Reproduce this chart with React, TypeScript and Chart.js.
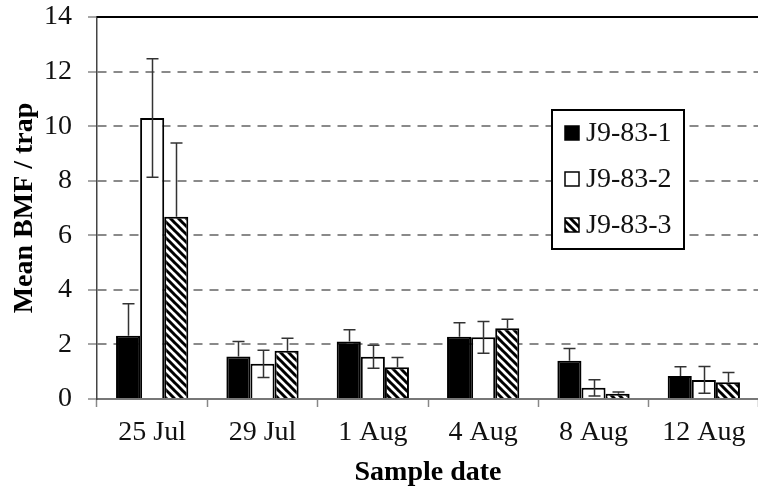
import React, { useEffect, useRef } from 'react';
import { Chart, registerables } from 'chart.js';

Chart.register(...registerables);

// Sample dates on the x axis
const sampleDates = ['25 Jul', '29 Jul', '1 Aug', '4 Aug', '8 Aug', '12 Aug'];

// Mean BMF per trap for each line, with the standard error of each mean
const seriesNames = ['J9-83-1', 'J9-83-2', 'J9-83-3'];
const meansLine1 = [2.32, 1.56, 2.11, 2.28, 1.4, 0.84];
const errorsLine1 = [1.17, 0.55, 0.43, 0.51, 0.45, 0.34];
const meansLine2 = [10.3, 1.29, 1.55, 2.26, 0.41, 0.7];
const errorsLine2 = [2.17, 0.5, 0.42, 0.58, 0.3, 0.49];
const meansLine3 = [6.68, 1.77, 1.16, 2.59, 0.19, 0.61];
const errorsLine3 = [2.7, 0.46, 0.36, 0.33, 0.07, 0.36];

const yMin = 0;
const yMax = 14;
const yStep = 2;

const SERIF = '"Liberation Serif", "Times New Roman", serif';

function makeHatch(): CanvasPattern | string {
  const size = 8;
  const c = document.createElement('canvas');
  c.width = size;
  c.height = size;
  const g = c.getContext('2d');
  if (!g) return '#888';
  g.fillStyle = '#fff';
  g.fillRect(0, 0, size, size);
  g.strokeStyle = '#000';
  g.lineWidth = 3;
  g.beginPath();
  for (let k = -1; k <= 1; k++) {
    g.moveTo(k * size - 1, -1);
    g.lineTo(k * size + size + 1, size + 1);
  }
  g.stroke();
  const p = g.createPattern(c, 'repeat');
  return p || '#888';
}

export default function App() {
  const canvasRef = useRef<HTMLCanvasElement | null>(null);

  useEffect(() => {
    const canvas = canvasRef.current;
    if (!canvas) return;
    const hatch = makeHatch();

    const series = [
      { name: seriesNames[0], values: meansLine1, errors: errorsLine1, fill: '#000' as any, lower: false },
      { name: seriesNames[1], values: meansLine2, errors: errorsLine2, fill: '#fff' as any, lower: true },
      { name: seriesNames[2], values: meansLine3, errors: errorsLine3, fill: hatch as any, lower: false },
    ];

    const decorations = {
      id: 'decorations',
      afterDatasetsDraw(chart: any) {
        const { ctx, scales } = chart;
        const y = scales.y;
        ctx.save();
        ctx.strokeStyle = '#333';
        ctx.lineWidth = 1.5;
        const cap = 6;
        series.forEach((s, di) => {
          const meta = chart.getDatasetMeta(di);
          meta.data.forEach((bar: any, i: number) => {
            const x = Math.round(bar.x) + 0.5;
            const v = s.values[i];
            const e = s.errors[i];
            const yTop = y.getPixelForValue(v + e);
            const yMid = y.getPixelForValue(v);
            const yBot = y.getPixelForValue(Math.max(0, v - e));
            ctx.beginPath();
            ctx.moveTo(x, yTop);
            ctx.lineTo(x, s.lower ? yBot : yMid);
            ctx.moveTo(x - cap, yTop);
            ctx.lineTo(x + cap, yTop);
            if (s.lower) {
              ctx.moveTo(x - cap, yBot);
              ctx.lineTo(x + cap, yBot);
            }
            ctx.stroke();
          });
        });
        ctx.restore();
      },
      afterDraw(chart: any) {
        const { ctx, chartArea } = chart;
        ctx.save();
        // top frame line
        ctx.strokeStyle = '#000';
        ctx.lineWidth = 2;
        ctx.beginPath();
        ctx.moveTo(chartArea.left, chartArea.top);
        ctx.lineTo(chartArea.right, chartArea.top);
        ctx.stroke();

        // legend box
        const bx = chartArea.left + 455;
        const by = chartArea.top + 93;
        const bw = 132;
        const bh = 139;
        ctx.fillStyle = '#fff';
        ctx.fillRect(bx, by, bw, bh);
        ctx.lineWidth = 2;
        ctx.strokeStyle = '#000';
        ctx.strokeRect(bx, by, bw, bh);
        ctx.font = `28px ${SERIF}`;
        ctx.textBaseline = 'middle';
        ctx.textAlign = 'left';
        series.forEach((s, i) => {
          const cy = by + 23 + i * 46;
          const sx = bx + 13;
          const sz = 14;
          ctx.fillStyle = s.fill;
          ctx.fillRect(sx, cy - sz / 2, sz, sz);
          ctx.lineWidth = 1.5;
          ctx.strokeStyle = '#000';
          ctx.strokeRect(sx, cy - sz / 2, sz, sz);
          ctx.fillStyle = '#111';
          ctx.fillText(s.name, bx + 34, cy + 1);
        });
        ctx.restore();
      },
    };

    const chart = new Chart(canvas, {
      type: 'bar',
      data: {
        labels: sampleDates,
        datasets: series.map((s) => ({
          label: s.name,
          data: s.values,
          backgroundColor: s.fill,
          borderColor: '#000',
          borderWidth: 2,
          categoryPercentage: 0.655,
          barPercentage: 1,
        })),
      },
      options: {
        animation: false,
        responsive: false,
        maintainAspectRatio: false,
        layout: { padding: { top: 17, right: 21, bottom: 0, left: 0 } },
        plugins: { legend: { display: false }, tooltip: { enabled: false } },
        scales: {
          x: {
            offset: true,
            afterFit: (scale: any) => {
              scale.height = 92;
              scale.paddingLeft = 0;
              scale.paddingRight = 0;
            },
            grid: {
              offset: true,
              drawOnChartArea: false,
              drawTicks: true,
              tickLength: 8,
              tickColor: '#888',
              tickWidth: 1.5,
            },
            border: { color: '#777', width: 2 },
            ticks: {
              color: '#111',
              padding: 9,
              maxRotation: 0,
              autoSkip: false,
              font: { family: SERIF, size: 28 },
            },
            title: {
              display: true,
              text: 'Sample date',
              color: '#000',
              padding: { top: 0, bottom: 1 },
              font: { family: SERIF, size: 28, weight: 'bold' },
            },
          },
          y: {
            min: yMin,
            max: yMax,
            afterFit: (scale: any) => {
              scale.width = 97;
              scale.paddingTop = 0;
              scale.paddingBottom = 0;
            },
            ticks: {
              stepSize: yStep,
              color: '#111',
              padding: 16,
              font: { family: SERIF, size: 28 },
            },
            grid: {
              color: (c: any) =>
                c.tick && (c.tick.value === yMin || c.tick.value === yMax) ? 'rgba(0,0,0,0)' : '#8a8a8a',
              lineWidth: 2,
              drawTicks: true,
              tickLength: 9,
              tickColor: '#888',
              tickWidth: 1.5,
              tickBorderDash: [],
            },
            border: { color: '#444', width: 1.5, dash: [9, 7] },
            title: {
              display: true,
              text: 'Mean BMF / trap',
              color: '#000',
              padding: { top: 8, bottom: 0 },
              font: { family: SERIF, size: 28, weight: 'bold' },
            },
          },
        },
      } as any,
      plugins: [decorations],
    });

    return () => chart.destroy();
  }, []);

  return (
    <div
      style={{
        position: 'fixed',
        left: 0,
        top: 0,
        width: 758,
        height: 491,
        overflow: 'hidden',
        background: '#fff',
      }}
    >
      <canvas ref={canvasRef} width={780} height={491} style={{ display: 'block', width: 780, height: 491 }} />
    </div>
  );
}
